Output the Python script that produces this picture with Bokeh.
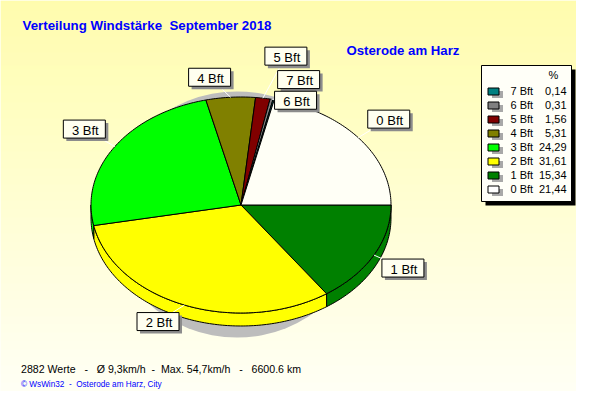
import numpy as np
from bokeh.plotting import figure
from bokeh.models import Range1d
from bokeh.core.properties import value
from bokeh.embed import file_html
from bokeh.resources import INLINE

# ---------------- data ----------------
classes = ["1 Bft", "2 Bft", "3 Bft", "4 Bft", "5 Bft", "6 Bft", "7 Bft", "0 Bft"]   # clockwise from 3 o'clock
percent = [15.34, 31.61, 24.29, 5.31, 1.56, 0.31, 0.14, 21.44]
slice_colors = ["#008000", "#ffff00", "#00ff00", "#808000", "#800000", "#808080", "#008080", "#fffff6"]
legend_order = ["7 Bft", "6 Bft", "5 Bft", "4 Bft", "3 Bft", "2 Bft", "1 Bft", "0 Bft"]
title = "Verteilung Windstärke  September 2018"
station = "Osterode am Harz"
footer = "2882 Werte   -   Ø 9,3km/h  -  Max. 54,7km/h   -   6600.6 km"
credit = "© WsWin32  -  Osterode am Harz, City"

# ---------------- layout ----------------
CX, CY, RX, RY, DEPTH = 240.5, 204.5, 150.0, 108.0, 13.0
label_offsets = {"1 Bft": (29, 13), "2 Bft": (-26.5, 16.5), "3 Bft": (-30.5, -17.5), "4 Bft": (-21, -20),
                 "5 Bft": (23, -42), "6 Bft": (24, 1), "7 Bft": (25, -20), "0 Bft": (30.5, -18.5)}
FONT = value("Liberation Sans")
DY = -4.5   # baseline correction


def keep_spaces(s):
    return s.replace("  ", " \u00a0")


p = figure(width=576, height=391, x_range=Range1d(0, 576), y_range=Range1d(391, 0),
           output_backend="svg", toolbar_location=None, min_border=0)
p.axis.visible = False
p.grid.visible = False
p.outline_line_color = None
p.background_fill_color = "#fffff4"
p.border_fill_color = "#fffff4"

# background gradient (yellow top -> near white bottom)
ys = np.arange(0, 392, 1.0)
t = ys / 407.0
top_c = np.array([255, 252, 150])
bot_c = np.array([255, 255, 244])
grad_cols = ["#%02x%02x%02x" % tuple(np.round(top_c + (bot_c - top_c) * min(1, tt * 1.05)).astype(int)) for tt in t]
p.quad(left=0, right=576, top=ys, bottom=ys + 1.0, fill_color=grad_cols, line_color=None)

# shadow of the pie
p.ellipse(x=[CX - 4], y=[CY + 9.5], width=[256], height=[246], fill_color="#bdbdbd", line_color=None)

# slice angles (clockwise, screen coords with y down)
frac = np.array(percent) / sum(percent)
ends = np.cumsum(frac) * 360.0
starts = ends - frac * 360.0


def arc(a0, a1, n=None):
    if n is None:
        n = max(2, int(abs(a1 - a0) / 1.0) + 2)
    th = np.radians(np.linspace(a0, a1, n))
    return CX + RX * np.cos(th), CY + RY * np.sin(th)


# side walls (lower half, 0..180 deg clockwise)
side_xs, side_ys, side_cols = [], [], []
for a0, a1, col in zip(starts, ends, slice_colors):
    lo, hi = max(a0, 0.0), min(a1, 180.0)
    if hi > lo:
        tx, ty = arc(lo, hi)
        side_xs.append(list(tx) + list(tx[::-1]))
        side_ys.append(list(ty) + list(ty[::-1] + DEPTH))
        side_cols.append(col)
p.patches(side_xs, side_ys, fill_color=side_cols, line_color="black", line_width=1)

# top faces
top_xs, top_ys = [], []
for a0, a1 in zip(starts, ends):
    tx, ty = arc(a0, a1)
    top_xs.append([CX] + list(tx))
    top_ys.append([CY] + list(ty))
p.patches(top_xs, top_ys, fill_color=slice_colors, line_color="black", line_width=1)

# labels with leader lines
mid = np.radians((starts + ends) / 2)
ax = CX + RX * np.cos(mid)
ay = CY + RY * np.sin(mid)
bx = [a + label_offsets[c][0] for a, c in zip(ax, classes)]
by = [a + label_offsets[c][1] for a, c in zip(ay, classes)]
p.segment(x0=ax, y0=ay, x1=bx, y1=by, line_color="white", line_width=1)
BW, BH = 42, 18
p.rect(x=[x + 3 for x in bx], y=[y + 3 for y in by], width=BW, height=BH, fill_color="#8c8c8c", line_color=None)
p.rect(x=bx, y=by, width=BW, height=BH, fill_color="#fffff0", line_color="black", line_width=1)
p.text(x=[x + 1 for x in bx], y=[y + 5.5 + DY for y in by], text=classes, text_font=FONT,
       text_font_size=value("13px"), text_color="black", text_align="center", text_baseline="alphabetic")

# titles
p.text(x=[22], y=[29.5 + DY], text=[keep_spaces(title)], text_font=FONT, text_font_style="bold",
       text_font_size=value("13.3px"), text_color="#0000ff", text_baseline="alphabetic")
p.text(x=[346], y=[54 + DY], text=[station], text_font=FONT, text_font_style="bold",
       text_font_size=value("13.2px"), text_color="#0000ff", text_baseline="alphabetic")
p.text(x=[20.5], y=[372.5 + DY], text=[keep_spaces(footer)], text_font=FONT,
       text_font_size=value("10.6px"), text_color="black", text_baseline="alphabetic")
p.text(x=[20.5], y=[388.5 + DY], text=[keep_spaces(credit)], text_font=FONT,
       text_font_size=value("8.2px"), text_color="#0000ff", text_baseline="alphabetic")

# legend
LX0, LX1, LY0, LY1 = 481, 571, 65, 201
p.quad(left=[LX0 + 4], right=[LX1 + 4], top=[LY0 + 4], bottom=[LY1 + 4], fill_color="black", line_color=None)
p.quad(left=[LX0], right=[LX1], top=[LY0], bottom=[LY1], fill_color="#fffff8", line_color="black", line_width=1)
p.text(x=[553], y=[78.5 + DY], text=["%"], text_font=FONT, text_font_size=value("11px"),
       text_color="black", text_align="center", text_baseline="alphabetic")
row_y = [91 + 14 * i for i in range(len(legend_order))]
leg_cols = [slice_colors[classes.index(c)] for c in legend_order]
leg_cols = ["#ffffff" if c == "#fffff6" else c for c in leg_cols]
leg_vals = [("%.2f" % percent[classes.index(c)]).replace(".", ",") for c in legend_order]
p.rect(x=[497] * len(row_y), y=[y + 3 for y in row_y], width=11, height=7, fill_color="#a8a8a8", line_color=None)
p.rect(x=[493] * len(row_y), y=row_y, width=11, height=7, fill_color=leg_cols, line_color="black", line_width=1)
p.text(x=[510] * len(row_y), y=[y + 4 + DY for y in row_y], text=legend_order, text_font=FONT,
       text_font_size=value("11px"), text_color="black", text_baseline="alphabetic")
p.text(x=[566] * len(row_y), y=[y + 4 + DY for y in row_y], text=leg_vals, text_font=FONT,
       text_font_size=value("11px"), text_color="black", text_align="right", text_baseline="alphabetic")

open("out.html", "w").write(file_html(p, INLINE))
